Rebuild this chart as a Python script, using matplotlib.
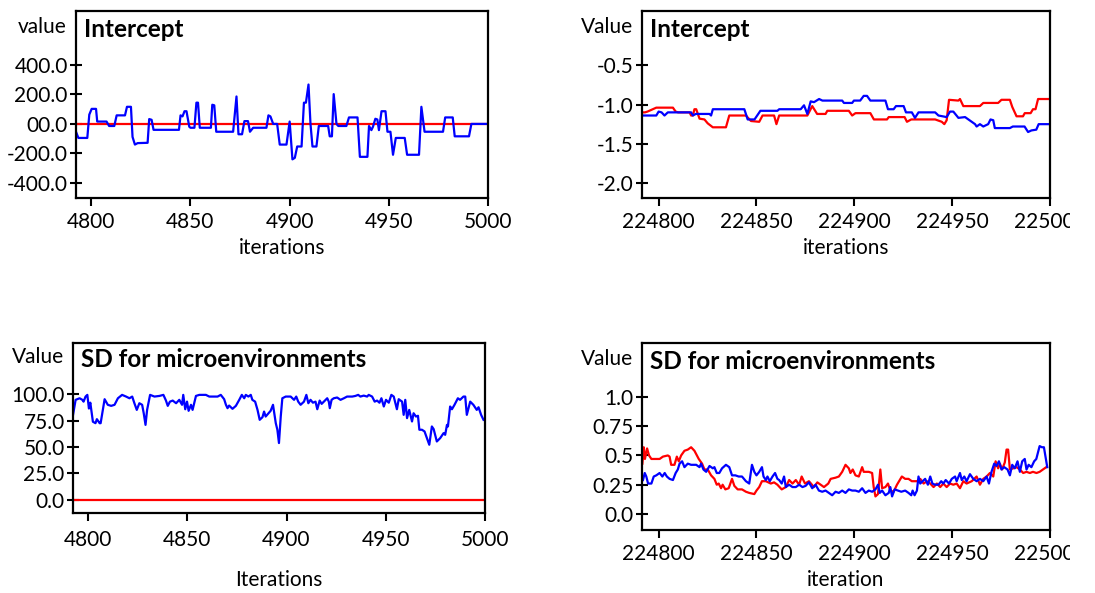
import matplotlib
matplotlib.use('Agg')
import matplotlib.pyplot as plt
from matplotlib.transforms import Bbox

plt.rcParams['font.family'] = ['Lato', 'DejaVu Sans']

# ---- top left: Intercept, short run ----
int1_x = [4792.3, 4793.5, 4798, 4799, 4800.2, 4802.4, 4803, 4807.7, 4809, 4811.6, 4812.8, 4817, 4818, 4820,
          4820.8, 4822, 4823.4, 4828.4, 4829.2, 4830.4, 4831.4, 4844.2, 4845, 4846, 4847, 4848, 4849.4, 4850,
          4852, 4853, 4853.8, 4854.7, 4860.3, 4861, 4862, 4863, 4871.5, 4873.2, 4874.2, 4876, 4877.2, 4879,
          4880, 4881.6, 4888.3, 4889.3, 4890.3, 4891.7, 4893.7, 4895, 4898.4, 4900, 4901.4, 4902.6, 4903.8,
          4906, 4907.2, 4908.2, 4909.5, 4910.5, 4911.5, 4913.5, 4914.7, 4919.4, 4920.2, 4921.3, 4922.2, 4923.6,
          4924.5, 4928.6, 4929.9, 4934.2, 4935.4, 4939.2, 4940, 4941.2, 4942, 4943.2, 4944.2, 4945, 4946.3,
          4948.3, 4949.3, 4950.8, 4952.1, 4953.5, 4958, 4959.2, 4965.2, 4966.4, 4968, 4977.3, 4978.4, 4982.2,
          4983.2, 4990.4, 4991.6, 5000]
int1_blue = [-53, -95, -95, 63, 102, 102, 16, 16, -14, -14, 58, 58, 116, 116,
             -88, -140, -130, -128, 33, 28, -40, -40, 58, 51, 86, 86, -19, -26,
             -26, 144, 144, -26, -26, 130, 126, -53, -53, 186, -70, -70, 19, 19,
             -53, -26, -26, 58, 51, 0, 0, -140, -140, 16, -240, -230, -153,
             -153, 144, 144, 267, 0, -153, -153, -14, -14, -84, -84, 202, 0,
             -14, -14, 44, 44, -223, -223, -14, -42, -19, 35, 30, -42, 86,
             86, -53, -53, -209, -95, -95, -209, -209, 116, -53, -53, 44, 44,
             -84, -84, 0, 0]
int1_red_x = [4792.3, 5000]
int1_red = [0, 0]

# ---- top right: Intercept, long run ----
int2_blue_x = [224791.5, 224798.8, 224800, 224801.5, 224803, 224804.7, 224816.6, 224817.5, 224819, 224826,
               224826.8, 224827.7, 224843.8, 224845.5, 224849, 224852, 224860.7, 224861.6, 224872.6, 224874.3,
               224876, 224877.7, 224879.4, 224882, 224883.7, 224893.8, 224894.7, 224898.9, 224899.8, 224903,
               224904.8, 224906.5, 224908.2, 224915.9, 224917.2, 224920.1, 224921.3, 224925.2, 224926.4,
               224929.4, 224931, 224932.8, 224941.3, 224943, 224947.2, 224948.9, 224950.6, 224953.2, 224956.6,
               224961.7, 224962.5, 224964.2, 224965.9, 224968.4, 224969.6, 224971, 224971.8, 224979.5, 224981,
               224987, 224988.8, 224990.5, 224993, 224994.2, 225000]
int2_blue = [-1.14, -1.14, -1.09, -1.10, -1.14, -1.10, -1.10, -1.14, -1.12, -1.12,
             -1.14, -1.06, -1.06, -1.19, -1.19, -1.08, -1.08, -1.06, -1.06, -1.01,
             -1.12, -0.96, -0.97, -0.93, -0.95, -0.95, -0.98, -0.98, -0.95, -0.95,
             -0.89, -0.89, -0.95, -0.95, -1.06, -1.06, -1.02, -1.02, -1.10,
             -1.10, -1.17, -1.10, -1.10, -1.14, -1.16, -1.09, -1.09, -1.17, -1.16,
             -1.25, -1.28, -1.25, -1.28, -1.25, -1.19, -1.20, -1.30, -1.30, -1.28,
             -1.28, -1.35, -1.33, -1.32, -1.25, -1.25]
int2_red_x = [224791.5, 224793, 224794.3, 224798.8, 224807.3, 224808.7, 224810, 224815.8, 224816.6, 224817.5,
              224818.3, 224819.2, 224820.9, 224823.4, 224825.1, 224827.7, 224834.4, 224836.1, 224844.6,
              224847.2, 224851.4, 224853.1, 224859, 224860.2, 224861.6, 224876, 224878.5, 224881, 224885.3,
              224886.2, 224897.2, 224898.9, 224900.6, 224908.2, 224910, 224916.7, 224917.6, 224925.7, 224926.9,
              224929.1, 224941.3, 224944.7, 224946, 224947.2, 224948.4, 224953.2, 224954, 224955.7, 224964.2,
              224965.9, 224973.5, 224975.2, 224979.5, 224980.7, 224982.9, 224986.2, 224987.1, 224990.1,
              224991.3, 224992.6, 224993.9, 225000]
int2_red = [-1.10, -1.10, -1.09, -1.04, -1.04, -1.09, -1.10, -1.10, -1.14, -1.14,
            -1.06, -1.06, -1.18, -1.19, -1.24, -1.29, -1.29, -1.14, -1.14,
            -1.21, -1.22, -1.14, -1.14, -1.25, -1.14, -1.14, -1.02, -1.12, -1.12,
            -1.08, -1.08, -1.14, -1.11, -1.11, -1.19, -1.19, -1.16, -1.16, -1.22,
            -1.19, -1.19, -1.22, -1.25, -1.20, -0.94, -0.95, -0.93, -1.02, -1.02,
            -0.98, -0.98, -0.94, -0.94, -1.03, -1.15, -1.15, -1.11, -1.11,
            -1.06, -1.06, -0.93, -0.93]

# ---- bottom left: SD for microenvironments, short run ----
sd1_x = [4792.5, 4793.8, 4795.8, 4797.2, 4797.8, 4798.8, 4799.7, 4800.5, 4801.2, 4802.5, 4803.8, 4804.5,
         4805.9, 4806.4, 4808.4, 4810, 4811.7, 4813.4, 4815.1, 4817.2, 4819.2, 4820.9, 4822.3, 4823.4,
         4824.6, 4825.9, 4827.3, 4828.1, 4829, 4829.8, 4831.3, 4833.5, 4836, 4838, 4839.3, 4840.2, 4841.3,
         4842.7, 4844.4, 4846, 4847.4, 4848, 4849, 4849.9, 4850.7, 4851.9, 4852.7, 4854.4, 4856.1, 4859.4,
         4861.1, 4865.3, 4866.9, 4868.6, 4869.5, 4870.3, 4871.1, 4872.8, 4874.5, 4876.2, 4877.5, 4878.7,
         4879.5, 4880.8, 4882, 4882.8, 4884.2, 4885.4, 4886.5, 4887.9, 4888.7, 4889.5, 4890.9, 4892,
         4893.2, 4894.6, 4895.4, 4896.2, 4897.1, 4897.9, 4899.6, 4902.1, 4903.8, 4904.9, 4905.9, 4907.1,
         4908.8, 4910, 4911, 4912.1, 4913.3, 4914.6, 4915.5, 4916.7, 4917.7, 4918.8, 4920.5, 4921.3,
         4921.8, 4922.7, 4923.8, 4925.5, 4927.2, 4928.9, 4930.5, 4933.1, 4934.7, 4936.1, 4937.2, 4938.9,
         4940.6, 4941.4, 4943.1, 4944.4, 4945.6, 4946.8, 4947.8, 4949, 4950.1, 4951.5, 4952.8, 4954,
         4955.6, 4956.5, 4958.2, 4959, 4959.8, 4960.7, 4961.8, 4963.2, 4964, 4965.2, 4966.2, 4966.9,
         4968.2, 4969.5, 4970.7, 4971.9, 4973.2, 4974.1, 4975.7, 4977.4, 4979.1, 4979.9, 4980.8, 4981.3,
         4982.4, 4983.3, 4984.6, 4986.3, 4987.4, 4989.1, 4990, 4990.8, 4992.5, 4994.1, 4995.8, 4996.7,
         4998, 4999.2]
sd1_blue = [80.5, 94.7, 96.2, 94.7, 93, 97.8, 99.4, 86.5, 92, 74, 72.6, 76.4,
            72.6, 72.6, 95.3, 90, 89, 90, 96.2, 99.4, 97.8, 96.2, 97.8, 91.5,
            85.2, 91.5, 90, 82, 71, 85.2, 99.4, 97.8, 98.4, 99.4, 94, 89, 93,
            94, 91.5, 94.7, 90, 99.4, 85.8, 93, 84.3, 90, 85.2, 98.4, 99.4, 99.4,
            97.8, 97.8, 99.4, 95.3, 90, 86.8, 89.3, 86.2, 89, 94.7, 99.4, 96.2,
            99.4, 97.8, 99.4, 94.7, 93, 85.2, 75.8, 78.3, 83.6, 78.9, 82, 84.3,
            90, 72.6, 66.4, 53.8, 78.9, 96.2, 97.8, 97.8, 94.7, 97.8, 93, 90,
            93, 99.4, 91.5, 94.7, 92, 93, 85.8, 94, 90.9, 93, 96.2, 93,
            86.8, 94.7, 96.2, 96.9, 94.7, 96.2, 97.8, 97.8, 98.4, 99.4, 97.8, 98.7,
            97.8, 99.4, 97.8, 93, 94, 92, 96.2, 88.4, 94.7, 92, 99.4, 97.8,
            85.8, 95.3, 93, 80.5, 94.7, 77.4, 85.2, 74.2, 82, 78.9, 79.6, 66.4,
            66.4, 64.8, 58.5, 52.2, 69.5, 67, 55.3, 58.5, 63.2, 61.6, 71, 69.5,
            88.4, 85.8, 90, 96.2, 94.7, 97.8, 97.8, 80.5, 93, 90, 85.2, 87.7,
            80.5, 75.8]
sd1_red_x = [4792.5, 5000]
sd1_red = [0, 0]

# ---- bottom right: SD for microenvironments, long run ----
sd2_blue_x = [224792.0, 224792.9, 224793.7, 224794.6, 224796.3, 224797.5, 224798.8, 224800.5, 224801.9,
              224803.1, 224804.2, 224805.6, 224807.3, 224808.7, 224809.8, 224810.7, 224812.0, 224813.2,
              224814.9, 224816.6, 224819.2, 224820.9, 224821.7, 224822.9, 224824.3, 224826.0, 224827.7,
              224828.5, 224829.7, 224831.0, 224832.4, 224834.4, 224836.1, 224837.5, 224839.2, 224840.9,
              224842.6, 224844.6, 224846.3, 224847.7, 224848.9, 224850.0, 224851.4, 224852.8, 224853.6,
              224854.8, 224855.6, 224856.8, 224858.2, 224859.5, 224860.7, 224861.6, 224862.9, 224864.1,
              224865.0, 224866.7, 224868.4, 224870.1, 224871.8, 224873.5, 224875.1, 224876.8, 224878.5,
              224880.2, 224881.9, 224883.6, 224885.3, 224887.0, 224888.7, 224890.4, 224892.1, 224893.8,
              224895.5, 224897.2, 224898.9, 224900.6, 224902.3, 224904.0, 224905.7, 224907.4, 224909.1,
              224910.8, 224912.1, 224913.0, 224914.2, 224915.9, 224917.6, 224918.4, 224919.3, 224920.6,
              224922.3, 224924.0, 224926.0, 224927.7, 224929.1, 224929.8, 224930.8, 224932.0, 224932.8,
              224933.7, 224934.9, 224936.2, 224937.6, 224938.8, 224939.9, 224941.3, 224943.0, 224944.4,
              224945.5, 224946.7, 224948.4, 224949.8, 224951.5, 224952.3, 224954.0, 224954.9, 224956.2,
              224957.4, 224959.1, 224960.8, 224962.5, 224964.2, 224965.9, 224967.6, 224968.8, 224970.1,
              224971.5, 224972.7, 224973.9, 224975.2, 224976.6, 224978.3, 224979.5, 224980.7, 224982.0,
              224983.4, 224984.6, 224985.8, 224987.1, 224988.0, 224989.1, 224990.5, 224991.9, 224993.0,
              224994.7, 224995.9, 224996.9, 224998.1, 224998.6]
sd2_blue = [0.29, 0.35, 0.32, 0.26, 0.26, 0.32, 0.33, 0.35, 0.32,
            0.35, 0.32, 0.30, 0.29, 0.35, 0.38, 0.43, 0.45, 0.40,
            0.43, 0.42, 0.42, 0.40, 0.43, 0.38, 0.36, 0.41, 0.39,
            0.40, 0.35, 0.35, 0.39, 0.42, 0.40, 0.33, 0.33, 0.32,
            0.32, 0.28, 0.26, 0.42, 0.36, 0.33, 0.36, 0.40, 0.32,
            0.29, 0.32, 0.28, 0.32, 0.35, 0.30, 0.29, 0.26, 0.32,
            0.23, 0.25, 0.23, 0.23, 0.25, 0.23, 0.24, 0.27, 0.22,
            0.25, 0.20, 0.19, 0.20, 0.18, 0.16, 0.19, 0.18, 0.20,
            0.18, 0.21, 0.20, 0.20, 0.19, 0.22, 0.18, 0.20, 0.19,
            0.21, 0.25, 0.18, 0.20, 0.16, 0.18, 0.23, 0.15, 0.21,
            0.20, 0.19, 0.20, 0.18, 0.16, 0.20, 0.16, 0.20, 0.32,
            0.26, 0.28, 0.30, 0.25, 0.32, 0.26, 0.25, 0.25, 0.28,
            0.26, 0.29, 0.26, 0.30, 0.32, 0.28, 0.35, 0.29, 0.32,
            0.28, 0.34, 0.30, 0.28, 0.30, 0.28, 0.32, 0.26, 0.36,
            0.43, 0.41, 0.45, 0.38, 0.40, 0.38, 0.33, 0.42, 0.39,
            0.45, 0.36, 0.45, 0.47, 0.38, 0.42, 0.40, 0.45, 0.47,
            0.58, 0.57, 0.57, 0.45, 0.40]
sd2_red_x = [224791.7, 224792.4, 224793.0, 224794.1, 224795.1, 224796.3, 224798.0, 224800.5, 224802.2,
             224804.7, 224805.6, 224806.4, 224808.1, 224809.3, 224810.3, 224811.5, 224813.2, 224814.9,
             224816.6, 224818.3, 224820.5, 224822.2, 224823.4, 224825.1, 224826.8, 224828.5, 224829.7,
             224830.7, 224831.9, 224832.7, 224834.1, 224835.8, 224837.5, 224838.7, 224840.4, 224842.6,
             224844.6, 224846.3, 224848.9, 224850.0, 224851.4, 224852.8, 224854.8, 224857.3, 224859.0,
             224860.7, 224862.9, 224865.0, 224866.7, 224868.4, 224870.1, 224871.8, 224873.1, 224874.8,
             224876.8, 224879.4, 224881.1, 224882.8, 224884.5, 224886.7, 224887.9, 224890.4, 224892.1,
             224893.8, 224895.5, 224897.2, 224898.0, 224899.2, 224900.6, 224902.3, 224904.0, 224904.8,
             224907.4, 224909.1, 224909.9, 224910.8, 224912.1, 224913.3, 224914.2, 224915.9, 224917.2,
             224918.4, 224920.1, 224921.8, 224924.3, 224926.0, 224927.7, 224929.4, 224932.0, 224933.7,
             224935.4, 224937.1, 224938.8, 224940.5, 224942.2, 224943.9, 224945.5, 224947.2, 224948.9,
             224950.6, 224952.3, 224954.0, 224955.7, 224957.4, 224960.0, 224962.5, 224964.2, 224965.9,
             224967.6, 224969.3, 224971.0, 224972.2, 224973.5, 224974.4, 224975.5, 224976.9, 224977.8,
             224978.6, 224979.5, 224981.2, 224982.9, 224984.6, 224986.3, 224988.0, 224989.7, 224991.3,
             224993.1, 224994.7, 224996.4, 224998.1]
sd2_red = [0.43, 0.57, 0.47, 0.56, 0.50, 0.47, 0.47, 0.47, 0.49,
           0.50, 0.49, 0.42, 0.42, 0.49, 0.45, 0.50, 0.54, 0.55,
           0.57, 0.54, 0.47, 0.43, 0.38, 0.38, 0.33, 0.30, 0.25,
           0.26, 0.22, 0.25, 0.21, 0.22, 0.30, 0.24, 0.21, 0.21,
           0.19, 0.18, 0.17, 0.20, 0.23, 0.28, 0.28, 0.26, 0.27,
           0.25, 0.21, 0.23, 0.29, 0.26, 0.29, 0.25, 0.32, 0.26,
           0.28, 0.23, 0.27, 0.25, 0.23, 0.26, 0.30, 0.31, 0.32,
           0.36, 0.42, 0.39, 0.35, 0.38, 0.33, 0.32, 0.40, 0.36,
           0.36, 0.35, 0.23, 0.15, 0.17, 0.38, 0.22, 0.23, 0.26,
           0.20, 0.19, 0.25, 0.32, 0.30, 0.30, 0.28, 0.28, 0.30,
           0.26, 0.28, 0.26, 0.23, 0.26, 0.23, 0.26, 0.23, 0.26,
           0.25, 0.26, 0.22, 0.28, 0.26, 0.28, 0.32, 0.25, 0.30,
           0.32, 0.35, 0.32, 0.45, 0.39, 0.43, 0.38, 0.44, 0.55,
           0.55, 0.38, 0.39, 0.40, 0.38, 0.35, 0.36, 0.35, 0.36,
           0.35, 0.36, 0.38, 0.40]

# tick labels as printed in the original
short_xticks = [4800, 4850, 4900, 4950, 5000]
long_xticks = [224800, 224850, 224900, 224950, 225000]
int1_yticks = [400, 200, 0, -200, -400]
int1_ylabels = ['400.0', '200.0', '00.0', '-200.0', '-400.0']
int2_yticks = [-0.5, -1.0, -1.5, -2.0]
int2_ylabels = ['-0.5', '-1.0', '-1.5', '-2.0']
sd1_yticks = [100, 75, 50, 25, 0]
sd1_ylabels = ['100.0', '75.0', '50.0', '25.0', '0.0']
sd2_yticks = [1.0, 0.75, 0.5, 0.25, 0.0]
sd2_ylabels = ['1.0', '0.75', '0.5', '0.25', '0.0']

BLUE = '#0000ff'
RED = '#ff0000'
FS = 15

fig = plt.figure(figsize=(10.95, 5.93), dpi=100)


def make_panel(rect, xlim, ylim, xticks, yticks, ylabels, title, ylab, xlab, xlab_y, xpad=4):
    ax = fig.add_axes(rect)
    ax.set_xlim(*xlim)
    ax.set_ylim(*ylim)
    ax.set_xticks(xticks, labels=[str(t) for t in xticks])
    ax.set_yticks(yticks, labels=ylabels)
    for s in ax.spines.values():
        s.set_linewidth(1.6)
        s.set_color('black')
    ax.tick_params(axis='y', direction='inout', length=9, width=1.5, pad=1.5, labelsize=FS)
    ax.tick_params(axis='x', direction='out', length=6, width=1.5, pad=xpad, labelsize=FS)
    ax.text(0.02, 0.90, title, transform=ax.transAxes, fontsize=17.5, fontweight='bold',
            ha='left', va='center')
    ax.text(-0.022, 0.915, ylab, transform=ax.transAxes, fontsize=FS, ha='right', va='center')
    ax.text(0.5, xlab_y, xlab, transform=ax.transAxes, fontsize=FS, ha='center', va='center')
    return ax


ax1 = make_panel([0.0694, 0.6661, 0.3763, 0.3153], (4792.3, 5000), (-502, 765),
                 short_xticks, int1_yticks, int1_ylabels, 'Intercept', 'value', 'iterations', -0.267)
ax1.plot(int1_red_x, int1_red, color=RED, lw=1.6)
ax1.plot(int1_x, int1_blue, color=BLUE, lw=1.6)

ax2 = make_panel([0.5863, 0.6661, 0.3726, 0.3153], (224791.5, 225000), (-2.19, 0.19),
                 long_xticks, int2_yticks, int2_ylabels, 'Intercept', 'Value', 'iterations', -0.267)
ax2.plot(int2_red_x, int2_red, color=RED, lw=1.6)
ax2.plot(int2_blue_x, int2_blue, color=BLUE, lw=1.6)

ax3 = make_panel([0.0667, 0.1349, 0.3763, 0.2867], (4792.5, 5000), (-12.4, 148.5),
                 short_xticks, sd1_yticks, sd1_ylabels, 'SD for microenvironments', 'Value',
                 'Iterations', -0.394, xpad=6)
ax3.plot(sd1_red_x, sd1_red, color=RED, lw=1.6)
ax3.plot(sd1_x, sd1_blue, color=BLUE, lw=1.6)

ax4 = make_panel([0.5863, 0.1062, 0.3726, 0.3153], (224791.5, 225000), (-0.137, 1.46),
                 long_xticks, sd2_yticks, sd2_ylabels, 'SD for microenvironments', 'Value',
                 'iteration', -0.267)
ax4.plot(sd2_red_x, sd2_red, color=RED, lw=1.6)
ax4.plot(sd2_blue_x, sd2_blue, color=BLUE, lw=1.6)

# the original cuts the last long-run tick label at the right edge
for ax in (ax2, ax4):
    lab = ax.get_xticklabels()[-1]
    lab.set_clip_on(True)
    lab.set_clip_box(Bbox.from_extents(0, 0, 1070, 593))

fig.savefig('out.png', dpi=100)
